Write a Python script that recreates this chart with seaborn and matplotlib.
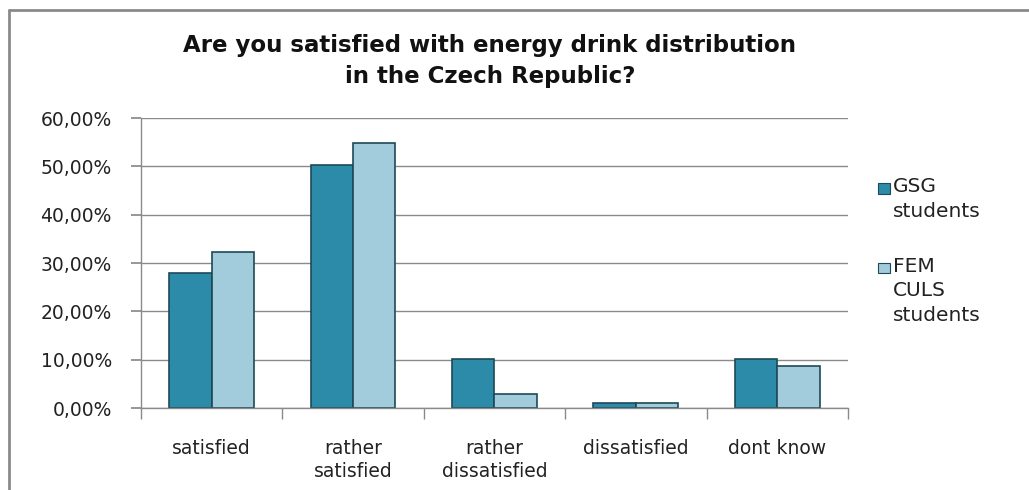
import pandas as pd
import matplotlib.pyplot as plt
from matplotlib.patches import Rectangle
from matplotlib.lines import Line2D
from matplotlib.ticker import FuncFormatter, FixedLocator
import seaborn as sns

sns.set_theme(style="white")
plt.rcParams['font.family'] = ['DejaVu Sans']

categories = ['satisfied', 'rather\nsatisfied', 'rather\ndissatisfied', 'dissatisfied', 'dont know']
gsg = [28.0, 50.4, 10.1, 1.0, 10.1]
fem = [32.2, 54.8, 3.0, 1.0, 8.8]
groups = ['GSG\nstudents', 'FEM\nCULS\nstudents']
colors = ['#2b8ba8', '#a2cbdb']

df = pd.DataFrame({
    'category': categories * 2,
    'value': gsg + fem,
    'group': [groups[0]] * 5 + [groups[1]] * 5,
})

fig = plt.figure(figsize=(10.29, 4.9), dpi=100)
ax = fig.add_axes([0.137, 0.167, 0.687, 0.592])

sns.barplot(data=df, x='category', y='value', hue='group', palette=colors, saturation=1,
            width=0.6, edgecolor='#1d4a58', linewidth=1.2, ax=ax, legend=False)

ax.set_ylim(0, 60)
ax.set_xlim(-0.5, 4.5)
ax.yaxis.set_major_locator(FixedLocator([0, 10, 20, 30, 40, 50, 60]))
ax.yaxis.set_major_formatter(FuncFormatter(lambda v, p: ('%.2f%%' % v).replace('.', ',')))
ax.yaxis.grid(True, color='#8a8a8a', linewidth=1)
ax.set_axisbelow(True)
ax.set_xlabel('')
ax.set_ylabel('')

for s in ['top', 'right']:
    ax.spines[s].set_visible(False)
for s in ['left', 'bottom']:
    ax.spines[s].set_color('#8a8a8a')
    ax.spines[s].set_linewidth(1)

ax.tick_params(axis='y', which='major', left=True, length=7, color='#8a8a8a',
               labelsize=13.5, labelcolor='#222222', pad=14)
ax.tick_params(axis='x', which='major', bottom=False, labelsize=13.5, labelcolor='#222222', pad=16)
for t in ax.get_xticklabels():
    t.set_linespacing(1.3)
ax.set_xticks([i + 0.5 for i in range(-1, 5)], minor=True)
ax.tick_params(axis='x', which='minor', bottom=True, length=8, color='#8a8a8a')

# legend, handle beside the first line of each label
leg_y = [0.616, 0.453]
for color, label, y in zip(colors, groups, leg_y):
    fig.patches.append(Rectangle((0.853, y - 0.011), 0.012, 0.022, transform=fig.transFigure,
                                 facecolor=color, edgecolor='#1d4a58', linewidth=0.8))
    fig.text(0.868, y + 0.022, label, ha='left', va='top', fontsize=14.5,
             color='#222222', linespacing=1.35)

fig.text(0.476, 0.875, 'Are you satisfied with energy drink distribution\nin the Czech Republic?',
         ha='center', va='center', fontsize=16.5, fontweight='bold', color='#111111',
         linespacing=1.45)

# chart frame: top and left edges only
fig.lines.append(Line2D([0.009, 1.0], [0.980, 0.980], transform=fig.transFigure,
                        color='#8a8a8a', linewidth=2))
fig.lines.append(Line2D([0.009, 0.009], [0.0, 0.980], transform=fig.transFigure,
                        color='#8a8a8a', linewidth=2))

plt.savefig('out.png', dpi=100)
